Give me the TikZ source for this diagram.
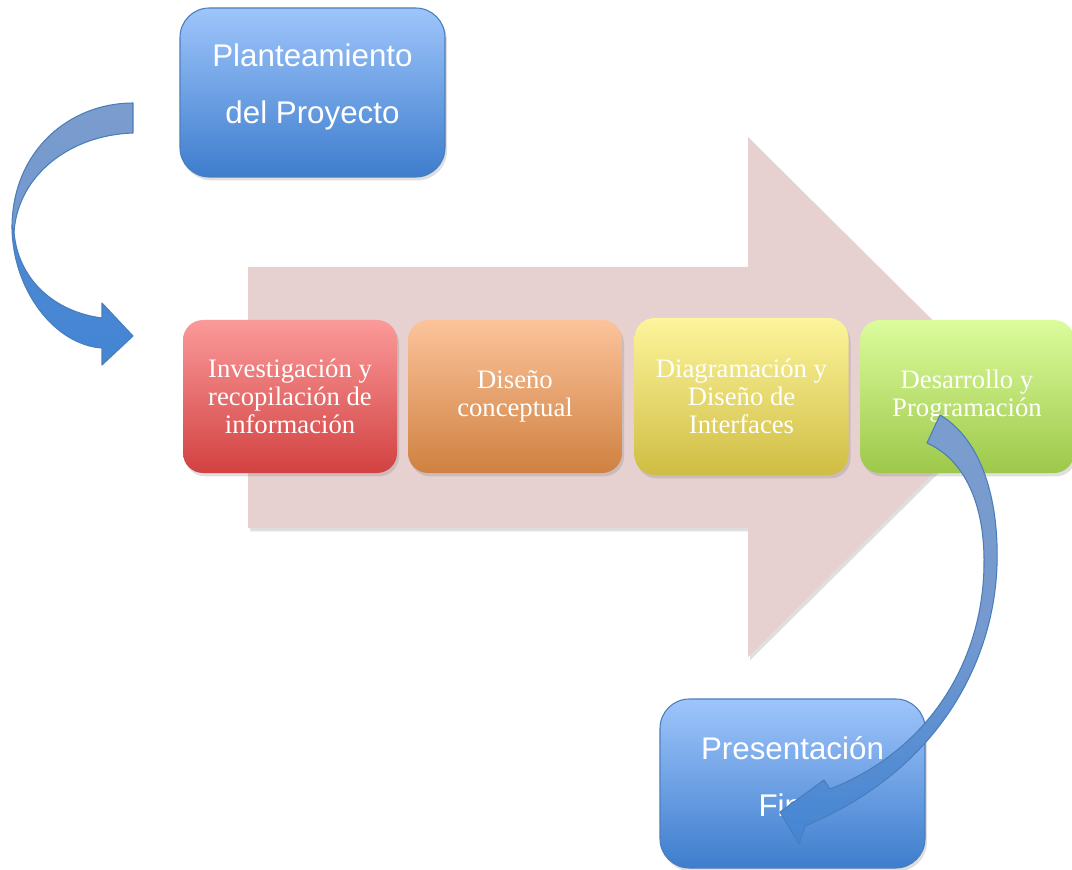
\documentclass[tikz,border=0pt]{standalone}
\usepackage{fontspec}
\setmainfont{Liberation Serif}
\setsansfont{Liberation Sans}
\usetikzlibrary{shadows,calc}
\definecolor{pinkbg}{HTML}{E6D0D0}
\definecolor{bluetop}{HTML}{9EC5FB}
\definecolor{bluebot}{HTML}{3E7DCD}
\definecolor{blueline}{HTML}{4A7EBB}
\definecolor{redtop}{HTML}{FB9A9A}
\definecolor{redbot}{HTML}{D24141}
\definecolor{orgtop}{HTML}{FCC39B}
\definecolor{orgbot}{HTML}{CF8140}
\definecolor{yeltop}{HTML}{FDF59C}
\definecolor{yelbot}{HTML}{CFBD43}
\definecolor{grntop}{HTML}{DCFC9C}
\definecolor{grnbot}{HTML}{9DC84A}
\definecolor{arrmuted}{HTML}{7B9CCE}
\definecolor{arrbright}{HTML}{4385D4}
\begin{document}
\begin{tikzpicture}[x=0.75pt,y=-0.75pt,
  shadowed/.style={drop shadow={shadow xshift=1.5pt,shadow yshift=-2.5pt,opacity=0.25}},
  stepbox/.style={rectangle, rounded corners=15pt, minimum width=160.5pt, minimum height=114.75pt,
    inner sep=0pt, font=\fontsize{20}{21}\selectfont, text=white, align=center, shadowed},
  bigbox/.style={rectangle, rounded corners=22pt, minimum width=198.75pt, minimum height=126.75pt,
    inner sep=0pt, top color=bluetop, bottom color=bluebot, draw=blueline, line width=0.8pt, shadowed},
  sanstext/.style={font=\sffamily\fontsize{23.5}{42.75}\selectfont, text=white, align=center, inner sep=0pt},
  curvearrow/.style={draw=blueline, line width=0.8pt, line join=round}
]
\useasboundingbox (0,0) rectangle (1072,870);
\fill[white] (0,0) rectangle (1072,870);

% big background arrow
\fill[pinkbg, shadowed] (248,267) -- (748,267) -- (748,137) -- (1010,397) -- (748,657) -- (748,528) -- (248,528) -- cycle;

% top box
\node[bigbox] (plan) at (312.5,92.5) {};
\node[sanstext] (plantxt) at ([yshift=4.5pt]plan.center) {Planteamiento\\del Proyecto};

% four steps
\node[stepbox, top color=redtop, bottom color=redbot] (inv) at (290,396.5) {Investigación y\\recopilación de\\información};
\node[stepbox, top color=orgtop, bottom color=orgbot] (dis) at (515,396.5) {\raisebox{-2pt}{Diseño}\\\raisebox{-2pt}{conceptual}};
\node[stepbox, top color=yeltop, bottom color=yelbot, minimum height=117.75pt] (dia) at (741.5,396.5) {Diagramación y\\Diseño de\\Interfaces};
\node[stepbox, top color=grntop, bottom color=grnbot] (des) at (967,396.5) {\raisebox{-2pt}{Desarrollo y}\\\raisebox{-2pt}{Programación}};

% bottom box
\node[bigbox] (pres) at (792.5,783.5) {};
\node[sanstext] (prestxt) at ([yshift=5.5pt]pres.center) {Presentación\\Final};

% left curved arrow (planteamiento -> investigacion)
\coordinate (lt1) at (133,103);
\coordinate (lt2) at (133,133);
\coordinate (ltip) at (133,336);
\shade[curvearrow, top color=arrmuted, bottom color=arrmuted!85!arrbright]
  (lt1) .. controls (70,103) and (13,150) .. (12,226)
  -- (14,232) .. controls (18,175) and (70,135) .. (lt2) -- cycle;
\shade[curvearrow, top color=arrbright!80!arrmuted, bottom color=arrbright]
  (12,226) .. controls (12,290) and (55,345) .. (102,348)
  -- (102,365) -- (ltip) -- (102,303) -- (102,318)
  .. controls (55,312) and (18,280) .. (14,232) -- cycle;

% right curved arrow (desarrollo -> presentacion)
\coordinate (rt1) at (940,415);
\coordinate (rt2) at (927,443);
\coordinate (rtip) at (780,812);
\shade[curvearrow, top color=arrmuted, bottom color=arrbright, middle color=arrmuted!90!arrbright]
  (rt1) .. controls (982,440) and (999,500) .. (997,565)
  .. controls (994,660) and (940,770) .. (805,826)
  -- (799,844) -- (rtip) -- (824,780) -- (830,789)
  .. controls (930,750) and (983,660) .. (984,565)
  .. controls (985,505) and (965,460) .. (rt2) -- cycle;
\end{tikzpicture}
\end{document}
